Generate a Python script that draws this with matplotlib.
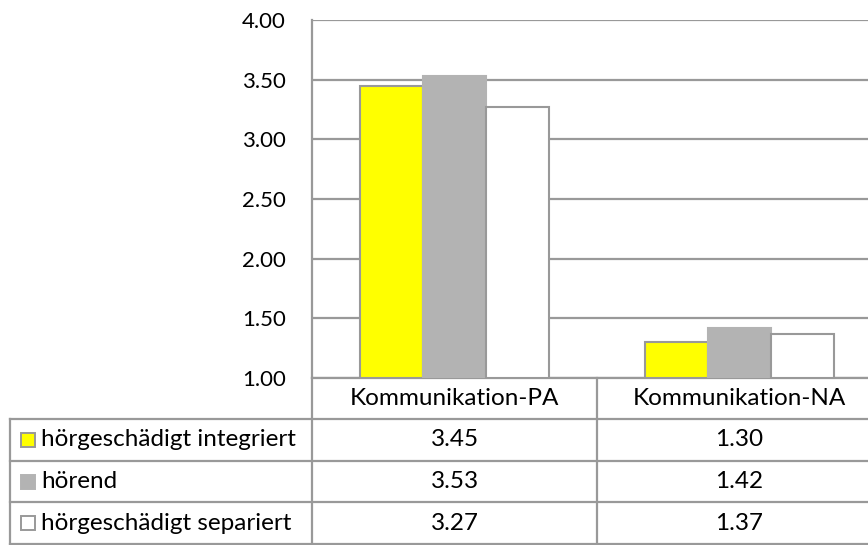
import matplotlib.pyplot as plt
from matplotlib.patches import Rectangle

categories = ["Kommunikation-PA", "Kommunikation-NA"]
series = ["hörgeschädigt integriert", "hörend", "hörgeschädigt separiert"]
integriert = [3.45, 1.30]
hoerend = [3.53, 1.42]
separiert = [3.27, 1.37]
y_ticks = [1.0, 1.5, 2.0, 2.5, 3.0, 3.5, 4.0]

colors = ["#ffff00", "#b3b3b3", "#ffffff"]
edges = ["#999999", "#b3b3b3", "#999999"]
line_c = "#999999"

plt.rcParams["font.family"] = ["Lato", "DejaVu Sans"]

W, H = 868, 545
fig = plt.figure(figsize=(W / 100, H / 100), dpi=100)


def fx(px):
    return px / W


def fy(py):
    return 1 - py / H


# plot area: x 312..882 (cropped by figure), y 20..378
ax = fig.add_axes([fx(312), fy(378), fx(882 - 312), fy(20) - fy(378)])
ax.set_xlim(-0.5, 1.5)
ax.set_ylim(1.0, 4.0)
ax.set_yticks(y_ticks)
ax.set_yticklabels([f"{v:.2f}" for v in y_ticks], fontsize=16)
ax.tick_params(axis="y", length=0, pad=19)
ax.set_xticks([])
ax.yaxis.grid(True, color=line_c, linewidth=1.6)
ax.set_axisbelow(True)
for s in ["top", "right"]:
    ax.spines[s].set_visible(False)
for s in ["left", "bottom"]:
    ax.spines[s].set_color(line_c)
    ax.spines[s].set_linewidth(1.6)

bw = 0.222
data = [integriert, hoerend, separiert]
for i, vals in enumerate(data):
    xs = [c + (i - 1) * bw for c in range(len(categories))]
    ax.bar(xs, [v - 1.0 for v in vals], bottom=1.0, width=bw,
           color=colors[i], edgecolor=edges[i], linewidth=1.5, zorder=3)

# data table below the plot
col_x = [312, 597, 882]
row_y = [378, 419, 461, 502, 544]
left = 10
fs = 17.5
kw = dict(color=line_c, linewidth=1.6, transform=fig.transFigure, clip_on=False)
for y in row_y[1:]:
    fig.add_artist(plt.Line2D([fx(left), fx(882)], [fy(y), fy(y)], **kw))
for x in col_x:
    fig.add_artist(plt.Line2D([fx(x), fx(x)], [fy(378), fy(545)], **kw))
fig.add_artist(plt.Line2D([fx(left), fx(left)], [fy(419), fy(545)], **kw))

for j, cat in enumerate(categories):
    cx = (col_x[j] + col_x[j + 1]) / 2
    fig.text(fx(cx), fy((row_y[0] + row_y[1]) / 2), cat, ha="center",
             va="center", fontsize=fs)
    for i, vals in enumerate(data):
        fig.text(fx(cx), fy((row_y[i + 1] + row_y[i + 2]) / 2),
                 f"{vals[j]:.2f}", ha="center", va="center", fontsize=fs)

for i, name in enumerate(series):
    yc = (row_y[i + 1] + row_y[i + 2]) / 2
    fig.add_artist(Rectangle((fx(21), fy(yc + 7)), fx(14), fy(yc - 7) - fy(yc + 7),
                             facecolor=colors[i], edgecolor=edges[i], linewidth=1.4,
                             transform=fig.transFigure))
    fig.text(fx(41), fy(yc), name, ha="left", va="center", fontsize=fs)

fig.savefig("out.png", dpi=100)
